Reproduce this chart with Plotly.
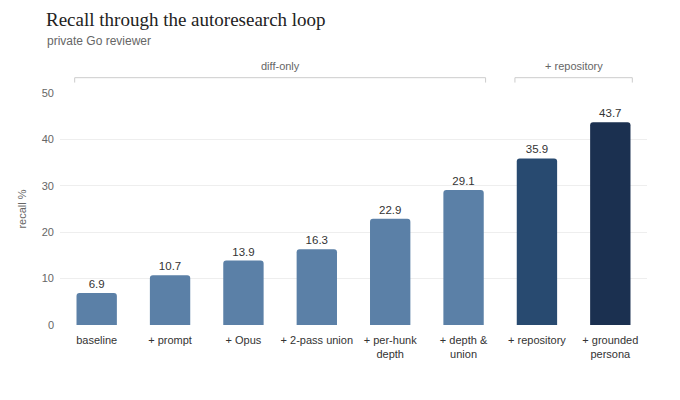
import plotly.graph_objects as go

categories = ["baseline", "+ prompt", "+ Opus", "+ 2-pass union",
              "+ per-hunk<br>depth", "+ depth &<br>union", "+ repository",
              "+ grounded<br>persona"]
recall = [6.9, 10.7, 13.9, 16.3, 22.9, 29.1, 35.9, 43.7]
bar_colors = ["#5b80a7"] * 6 + ["#284a70", "#1b3050"]

# phase groups drawn as brackets above the plot: (label, first bar, last bar)
groups = [("diff-only", 0, 5), ("+ repository", 6, 7)]

SANS = "Arial, Liberation Sans, sans-serif"
SERIF = "Times New Roman, Liberation Serif, serif"

fig = go.Figure(go.Bar(
    x=list(range(len(categories))), y=recall,
    marker=dict(color=bar_colors, cornerradius=3, line_width=0),
    text=[f"{v:.1f}" for v in recall], textposition="outside",
    textfont=dict(family=SANS, size=11.5, color="#333"), cliponaxis=False,
    width=0.55,
))

for label, a, b in groups:
    x0, x1 = a - 0.3, b + 0.3
    line = dict(color="#cccccc", width=1)
    fig.add_shape(type="line", xref="x", yref="paper", x0=x0, x1=x1, y0=1.066, y1=1.066, line=line)
    fig.add_shape(type="line", xref="x", yref="paper", x0=x0, x1=x0, y0=1.066, y1=1.045, line=line)
    fig.add_shape(type="line", xref="x", yref="paper", x0=x1, x1=x1, y0=1.066, y1=1.045, line=line)
    fig.add_annotation(x=(x0 + x1) / 2, y=1.08, xref="x", yref="paper", text=label,
                       showarrow=False, yanchor="bottom",
                       font=dict(family=SANS, size=11, color="#666"))

fig.add_annotation(text="Recall through the autoresearch loop", xref="paper", yref="paper",
                   x=-0.027, y=1.315, xanchor="left", yanchor="middle", showarrow=False,
                   font=dict(family=SERIF, size=19, color="#222"))
fig.add_annotation(text="private Go reviewer", xref="paper", yref="paper",
                   x=-0.026, y=1.224, xanchor="left", yanchor="middle", showarrow=False,
                   font=dict(family=SANS, size=12, color="#666"))

fig.update_layout(
    width=672, height=392,
    margin=dict(l=52, r=33, t=85, b=75),
    plot_bgcolor="white", paper_bgcolor="white",
    font=dict(family=SANS, size=11, color="#333"),
    showlegend=False,
    xaxis=dict(tickmode="array", tickvals=list(range(len(categories))),
               ticktext=categories, range=[-0.5, 7.5], showgrid=False,
               showline=False, ticks="", ticklabelstandoff=7,
               tickfont=dict(size=11, color="#333")),
    yaxis=dict(range=[0, 50], dtick=10, gridcolor="#eeeeee", zeroline=False,
               showline=False, ticklabelstandoff=5,
               tickfont=dict(size=11, color="#666"),
               title=dict(text="recall %", font=dict(size=11, color="#666"), standoff=12)),
)

fig.write_html("out.html")
